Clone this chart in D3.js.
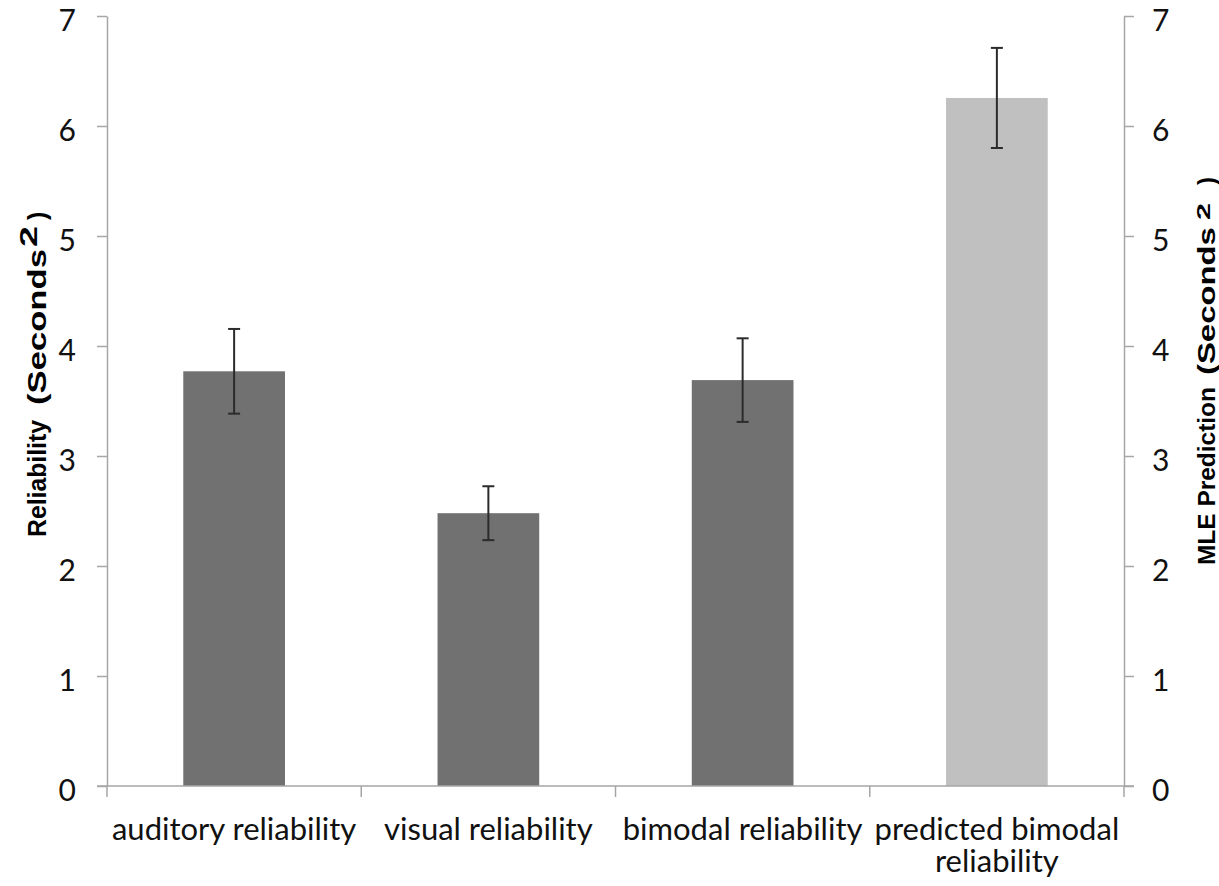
<!DOCTYPE html>
<html>
<head>
<meta charset="utf-8">
<script src="https://cdn.jsdelivr.net/npm/d3@7"></script>
<style>
  body { margin: 0; background: #fff; }
</style>
</head>
<body>
<script>
// reliability bars with SE error bars
var categories = ["auditory reliability", "visual reliability", "bimodal reliability", "predicted bimodal reliability"];
var values = [3.77, 2.48, 3.69, 6.255];
var errors = [0.385, 0.245, 0.38, 0.455];
var barColors = ["#727172", "#727172", "#727172", "#c0c0c0"];
var yTicks = [0, 1, 2, 3, 4, 5, 6, 7];
var labelLines = [["auditory reliability"], ["visual reliability"], ["bimodal reliability"], ["predicted bimodal", "reliability"]];

var W = 1219, H = 886;
var mLeft = 107, mRight = 1124, mTop = 16, mBottom = 786;

var svg = d3.select("body").append("svg")
  .attr("width", W)
  .attr("height", H);

var y = d3.scaleLinear().domain([0, 7]).range([mBottom, mTop]);
var x = d3.scaleBand().domain(categories).range([mLeft, mRight])
  .paddingInner(0.6).paddingOuter(0.3);

var axisColor = "#a6a6a6";
var tickFont = "Lato, 'Open Sans', sans-serif";

// left + right value axes
var gl = svg.append("g").attr("transform", "translate(" + mLeft + ",0)")
  .call(d3.axisLeft(y).tickValues(yTicks).tickFormat(d3.format("d"))
    .tickSize(10).tickSizeOuter(0).tickPadding(21));
var gr = svg.append("g").attr("transform", "translate(" + mRight + ",0)")
  .call(d3.axisRight(y).tickValues(yTicks).tickFormat(d3.format("d"))
    .tickSize(10).tickSizeOuter(0).tickPadding(18));

[gl, gr].forEach(function (g) {
  g.select(".domain").attr("stroke", axisColor).attr("stroke-width", 1.5);
  g.selectAll(".tick line").attr("stroke", axisColor).attr("stroke-width", 1.5);
  g.selectAll(".tick text")
    .attr("font-family", tickFont)
    .attr("font-size", 30)
    .attr("dy", "0.47em")
    .attr("fill", "#111");
});

// bars
svg.selectAll(".bar")
  .data(categories)
  .enter()
  .append("rect")
  .attr("class", "bar")
  .attr("x", function (d) { return x(d); })
  .attr("width", x.bandwidth())
  .attr("y", function (d, i) { return y(values[i]); })
  .attr("height", function (d, i) { return y(0) - y(values[i]); })
  .attr("fill", function (d, i) { return barColors[i]; });

// category axis: line at 0 with boundary ticks
svg.append("line")
  .attr("x1", mLeft - 10).attr("x2", mRight + 10)
  .attr("y1", y(0)).attr("y2", y(0))
  .attr("stroke", axisColor).attr("stroke-width", 1.5);

var bounds = d3.range(categories.length + 1).map(function (i) { return mLeft + i * x.step(); });
svg.selectAll(".ctick")
  .data(bounds)
  .enter()
  .append("line")
  .attr("class", "ctick")
  .attr("x1", function (d) { return d; })
  .attr("x2", function (d) { return d; })
  .attr("y1", y(0))
  .attr("y2", y(0) + 11)
  .attr("stroke", axisColor).attr("stroke-width", 1.5);

// error bars
var eb = svg.selectAll(".err")
  .data(categories)
  .enter()
  .append("g")
  .attr("class", "err")
  .attr("stroke", "#2b2b2b")
  .attr("stroke-width", 2);
eb.append("line")
  .attr("x1", function (d) { return x(d) + x.bandwidth() / 2; })
  .attr("x2", function (d) { return x(d) + x.bandwidth() / 2; })
  .attr("y1", function (d, i) { return y(values[i] + errors[i]); })
  .attr("y2", function (d, i) { return y(values[i] - errors[i]); });
[1, -1].forEach(function (s) {
  eb.append("line")
    .attr("x1", function (d) { return x(d) + x.bandwidth() / 2 - 6; })
    .attr("x2", function (d) { return x(d) + x.bandwidth() / 2 + 6; })
    .attr("y1", function (d, i) { return y(values[i] + s * errors[i]); })
    .attr("y2", function (d, i) { return y(values[i] + s * errors[i]); });
});

// category labels
svg.selectAll(".clabel")
  .data(categories)
  .enter()
  .append("text")
  .attr("class", "clabel")
  .attr("text-anchor", "middle")
  .attr("font-family", tickFont)
  .attr("font-size", 31)
  .attr("fill", "#111")
  .each(function (d, i) {
    var t = d3.select(this);
    labelLines[i].forEach(function (line, j) {
      t.append("tspan")
        .attr("x", x(d) + x.bandwidth() / 2)
        .attr("y", 840 + j * 32)
        .text(line);
    });
  });

// axis titles (rotated, reading bottom to top), built piece by piece
function title(o) {
  var g = svg.append("g")
    .attr("transform", "translate(" + o.bx + "," + o.by + ") rotate(-90)")
    .attr("font-family", "'Liberation Sans', Arial, sans-serif")
    .attr("font-weight", "bold")
    .attr("font-size", o.size)
    .attr("fill", "#000");
  g.append("text").attr("textLength", o.mainLen)
    .attr("lengthAdjust", "spacingAndGlyphs").text(o.main);
  var pos = o.mainLen + o.gap1;
  var t2 = g.append("text").text("(Seconds");
  var sx = o.secLen / t2.node().getComputedTextLength();
  t2.attr("transform", "translate(" + pos + ",0) scale(" + sx + ",1)");
  pos += o.secLen + o.gap2;
  var t3 = g.append("text").attr("y", -o.raise).attr("font-size", o.supSize).text("2");
  var s3 = o.supLen / t3.node().getComputedTextLength();
  t3.attr("transform", "translate(" + pos + ",0) scale(" + s3 + ",1)");
  pos += o.supLen + o.gap3;
  g.append("text").attr("x", pos).text(")");
}
title({ bx: 46, by: 537, size: 25, main: "Reliability", mainLen: 117, gap1: 15, secLen: 156,
  gap2: 2, raise: 9, supSize: 24, supLen: 21, gap3: 6 });
title({ bx: 1215, by: 565, size: 24, main: "MLE Prediction", mainLen: 178, gap1: 12, secLen: 148,
  gap2: 7, raise: 5, supSize: 19, supLen: 17, gap3: 18 });
</script>
</body>
</html>
